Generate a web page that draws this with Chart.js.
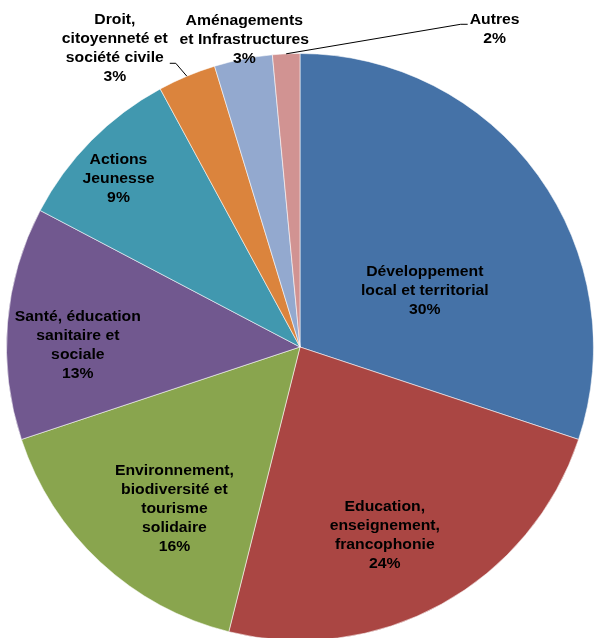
<!DOCTYPE html>
<html>
<head>
<meta charset="utf-8">
<script src="https://cdn.jsdelivr.net/npm/chart.js@4"></script>
<style>
  html, body { margin: 0; padding: 0; background: #ffffff; overflow: hidden; }
  #wrap { width: 594px; height: 638px; overflow: hidden; }
  canvas { display: block; }
</style>
</head>
<body>
<div id="wrap"><canvas id="c" width="594" height="641"></canvas></div>
<script>
// ---- Data ----
const categories = [
  "Développement\nlocal et territorial",
  "Education,\nenseignement,\nfrancophonie",
  "Environnement,\nbiodiversité et\ntourisme\nsolidaire",
  "Santé, éducation\nsanitaire et\nsociale",
  "Actions\nJeunesse",
  "Droit,\ncitoyenneté et\nsociété civile",
  "Aménagements\net Infrastructures",
  "Autres"
];
const values = [30.1, 23.8, 16.0, 12.8, 9.4, 3.2, 3.2, 1.5];
const percentLabels = ["30%", "24%", "16%", "13%", "9%", "3%", "3%", "2%"];
const colors = ["#4572A7", "#AA4643", "#89A54E", "#71588F", "#4198AF", "#DB843D", "#93A9CF", "#D19392"];

// ---- Label placement (polar, relative to each slice's mid-angle) ----
// f: fraction of outer radius; da: angular offset in degrees (clockwise)
const placement = [
  { f: 0.466, da: 11.7 },
  { f: 0.705, da: 4.6 },
  { f: 0.699, da: -5.1 },
  { f: 0.757, da: -4.2 },
  { f: 0.842, da: -1.9 },
  { f: 1.196, da: -9.16, leader: { side: "right", line: 2, dy: 5, elbow: 6 } },
  { f: 1.062, da: 0.86 },
  { f: 1.268, da: 34.23, leader: { side: "left", line: 0, dy: 4, elbow: 7 } }
];

const FONT = "bold 15px 'Liberation Sans', Arial, sans-serif";
const SCALE_X = 1.05;
const LINE_H = 19;

const labelPlugin = {
  id: "pieLabels",
  afterDatasetsDraw(chart) {
    const ctx = chart.ctx;
    const meta = chart.getDatasetMeta(0);
    ctx.save();
    ctx.font = FONT;
    ctx.fillStyle = "#000000";
    ctx.textAlign = "center";
    ctx.textBaseline = "middle";
    meta.data.forEach((arc, i) => {
      const p = arc.getProps(["x", "y", "startAngle", "endAngle", "outerRadius"], true);
      const mid = (p.startAngle + p.endAngle) / 2;
      const pl = placement[i];
      const a = mid + pl.da * Math.PI / 180;
      const cx = p.x + Math.cos(a) * p.outerRadius * pl.f;
      const cy = p.y + Math.sin(a) * p.outerRadius * pl.f;
      const lines = categories[i].split("\n").concat([percentLabels[i]]);
      const n = lines.length;
      let maxW = 0;
      lines.forEach(l => { maxW = Math.max(maxW, ctx.measureText(l).width * SCALE_X); });
      lines.forEach((l, k) => {
        const ly = cy + (k - (n - 1) / 2) * LINE_H;
        ctx.save();
        ctx.translate(cx, ly);
        ctx.scale(SCALE_X, 1);
        ctx.fillText(l, 0, 0);
        ctx.restore();
      });
      if (pl.leader) {
        const L = pl.leader;
        const sx = p.x + Math.cos(mid) * p.outerRadius;
        const sy = p.y + Math.sin(mid) * p.outerRadius;
        const ey = cy + (L.line - (n - 1) / 2) * LINE_H + L.dy;
        let ex, bx;
        if (L.side === "right") { ex = cx + maxW / 2 + 2; bx = ex + L.elbow; }
        else { ex = cx - maxW / 2 - 2; bx = ex - L.elbow; }
        ctx.beginPath();
        ctx.strokeStyle = "#000000";
        ctx.lineWidth = 1;
        ctx.moveTo(sx, sy);
        ctx.lineTo(bx, ey);
        ctx.lineTo(ex, ey);
        ctx.stroke();
      }
    });
    ctx.restore();
  }
};

new Chart(document.getElementById("c"), {
  type: "pie",
  data: {
    labels: categories.map(s => s.replace(/\n/g, " ")),
    datasets: [{
      data: values,
      backgroundColor: colors,
      borderColor: "rgba(255,255,255,0.55)",
      borderWidth: 1
    }]
  },
  options: {
    responsive: false,
    animation: false,
    layout: { padding: { left: 6, right: 0, top: 53, bottom: 0 } },
    plugins: { legend: { display: false }, tooltip: { enabled: false } }
  },
  plugins: [labelPlugin]
});
</script>
</body>
</html>
